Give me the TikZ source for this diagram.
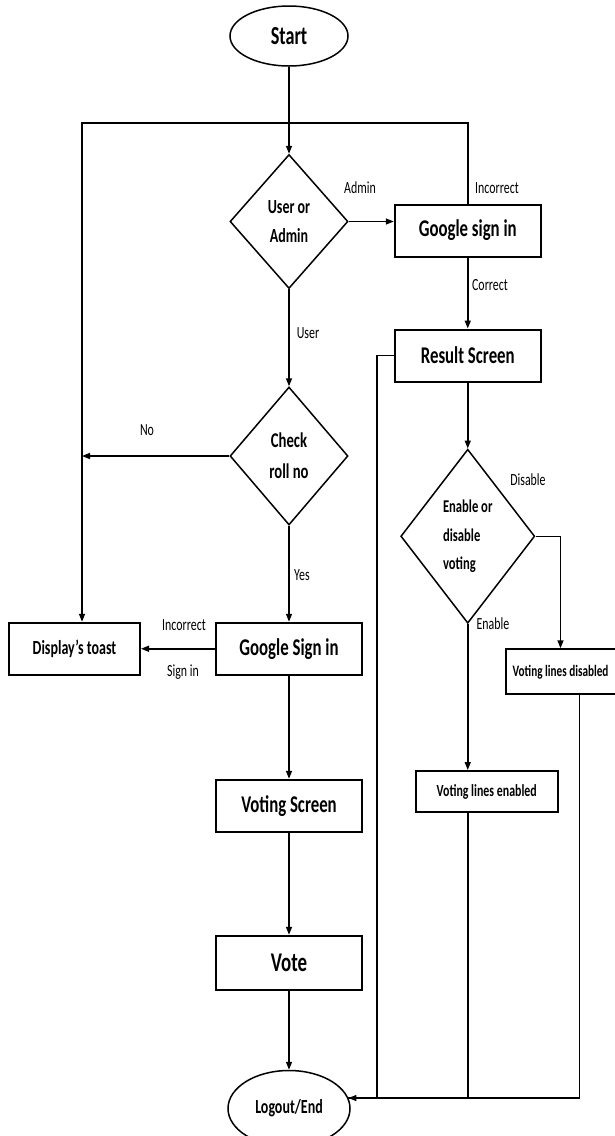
\documentclass[tikz,border=0pt]{standalone}
\usepackage{fontspec}
\setmainfont{Carlito}[FakeStretch=0.7]
\usetikzlibrary{arrows.meta,positioning,shapes.geometric}

\begin{document}
\begin{tikzpicture}[x=1pt, y=-1pt, line width=1.5pt,
  terminal/.style={draw, ellipse, inner sep=0pt, font=\bfseries},
  process/.style={draw, line width=2pt, minimum width=146pt, minimum height=52pt, inner sep=2pt, font=\bfseries\fontsize{24}{28}\selectfont},
  decision/.style={draw, diamond, inner sep=0pt, align=center, font=\bfseries},
  lbl/.style={inner sep=1pt, font=\fontsize{17}{20}\selectfont},
  >={Triangle[length=8pt, width=6pt]}]
\useasboundingbox (0,0) rectangle (614,1136);
% user side
\node[terminal, minimum width=118pt, minimum height=60pt, font=\bfseries\fontsize{26}{30}\selectfont] (start) at (289,36) {Start};
\node[decision, below=87pt of start, minimum width=118pt, minimum height=134pt, font=\bfseries\fontsize{20}{29}\selectfont] (ua) {User or\\Admin};
\node[decision, below=97pt of ua, minimum width=118pt, minimum height=138pt, font=\bfseries\fontsize{21}{31}\selectfont] (roll) {Check\\roll no};
\node[process, below=96pt of roll] (gsu) {Google Sign in};
\node[process, below=103pt of gsu] (vscr) {Voting Screen};
\node[process, below=102pt of vscr, minimum height=54pt, font=\bfseries\fontsize{27}{30}\selectfont] (vote) {Vote};
\node[terminal, below=79pt of vote, minimum width=122pt, minimum height=76pt, font=\bfseries\fontsize{20}{24}\selectfont] (logout) {Logout/End};
\node[process, left=74pt of gsu, minimum width=131pt, font=\bfseries\fontsize{20}{24}\selectfont] (toast) {Display's toast};
% admin side
\node[process, right=45pt of ua, yshift=-9pt] (gsa) {Google sign in};
\node[process, below=71pt of gsa] (res) {Result Screen};
\node[decision, below=66pt of res, minimum width=134pt, minimum height=174pt, align=left, font=\bfseries\fontsize{18}{28.5}\selectfont] (endis) {Enable or\\disable\\voting};
\node[process, below=146pt of endis, xshift=19pt, minimum width=142pt, minimum height=41pt, font=\bfseries\fontsize{17}{20}\selectfont] (von) {Voting lines enabled};
\node[process, below=112pt of endis.east, xshift=25pt, minimum width=110pt, minimum height=45pt, inner sep=1pt, font=\bfseries\fontsize{16}{20}\selectfont] (voff) {Voting lines disabled};
% arrows
\draw[->] (start) -- (ua);
\draw[->] (ua) -- (roll);
\draw[->] (roll) -- (gsu);
\draw[->] (gsu) -- (vscr);
\draw[->] (vscr) -- (vote);
\draw[->] (vote) -- (logout);
\draw[->] (ua.east) -- (ua.east -| gsa.west);
\draw[->] (gsa) -- (res);
\draw[->] (res) -- (endis);
\draw[->] (gsu.west) -- (toast.east);
\coordinate (loop) at (82,123);
\draw[->] (gsa.north) |- (loop) -- (loop |- toast.north);
\draw[->] (roll.west) -- (roll.west -| loop);
\draw[->] (endis.east) -| (voff.north);
\draw[->] (endis.south) -- (endis.south |- von.north);
\draw[->] (res.west) -- ++(-17,0) |- (logout.10);
\draw (von.south -| endis.south) -- (endis.south |- logout.10);
\draw ([xshift=19pt]voff.south) |- (logout.10);
% labels
\node[lbl] (tAdmin) at (360,188) {Admin};
\node[lbl] (tIncA) at (497,188) {Incorrect};
\node[lbl] (tCorrect) at (490,285) {Correct};
\node[lbl] (tUser) at (308,333) {User};
\node[lbl] (tNo) at (147,430) {No};
\node[lbl] (tYes) at (302,575) {Yes};
\node[lbl] (tIncU) at (184,625) {Incorrect};
\node[lbl] (tSign) at (183,672) {Sign in};
\node[lbl] (tDisable) at (528,480) {Disable};
\node[lbl] (tEnable) at (493,624) {Enable};
\end{tikzpicture}
\end{document}
